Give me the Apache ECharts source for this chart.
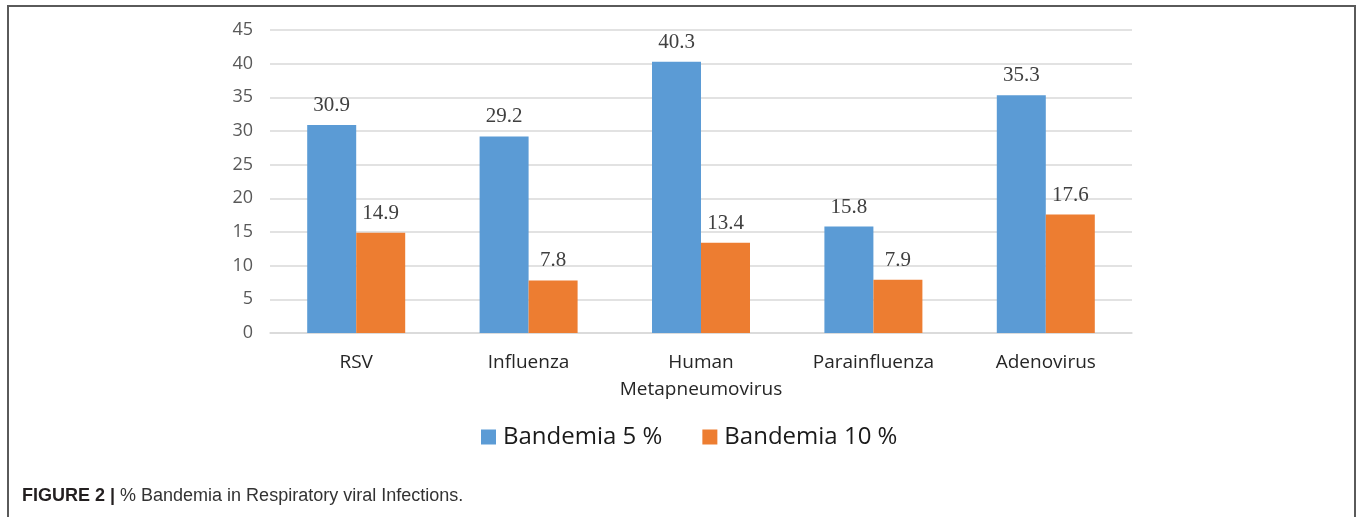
<!DOCTYPE html>
<html>
<head>
<meta charset="utf-8">
<style>
  html, body { margin: 0; padding: 0; background: #fff; }
  #chart { width: 1358px; height: 517px; }
</style>
<script src="https://cdn.jsdelivr.net/npm/echarts@6/dist/echarts.min.js"></script>
</head>
<body>
<div id="chart"></div>
<script>
// Viruses on the x axis
const categories = ['RSV', 'Influenza', 'Human\nMetapneumovirus', 'Parainfluenza', 'Adenovirus'];
// Percentage of patients with bandemia, per threshold
const bandemia5 = [30.9, 29.2, 40.3, 15.8, 35.3];
const bandemia10 = [14.9, 7.8, 13.4, 7.9, 17.6];
const seriesNames = ['Bandemia 5 %', 'Bandemia 10 %'];
const yTicks = { min: 0, max: 45, interval: 5 };

const chart = echarts.init(document.getElementById('chart'), null, { renderer: 'canvas' });

const valueLabel = {
  show: true,
  position: 'top',
  distance: 9,
  fontFamily: 'Liberation Serif',
  fontSize: 21,
  color: '#404040'
};

chart.setOption({
  animation: false,
  backgroundColor: '#ffffff',
  title: {
    left: 17,
    top: 482,
    text: '{b|FIGURE 2 |} {n|% Bandemia in Respiratory viral Infections.}',
    textStyle: {
      fontWeight: 'normal',
      rich: {
        b: { fontFamily: 'Liberation Sans', fontWeight: 'bold', fontSize: 18, color: '#231f20' },
        n: { fontFamily: 'Liberation Sans', fontWeight: 'normal', fontSize: 18, color: '#333333' }
      }
    }
  },
  graphic: [
    {
      type: 'rect',
      shape: { x: 8, y: 6, width: 1347, height: 530 },
      style: { fill: 'none', stroke: '#5a5a5a', lineWidth: 2 },
      silent: true
    }
  ],
  legend: {
    top: 420,
    left: 476,
    itemWidth: 15,
    itemHeight: 15,
    itemGap: 40,
    icon: 'rect',
    textStyle: { fontFamily: 'Open Sans', fontSize: 24, color: '#1a1a1a', padding: [0, 0, 0, 2] },
    data: seriesNames
  },
  grid: { left: 270, right: 226, top: 30, bottom: 184, containLabel: false },
  xAxis: {
    type: 'category',
    data: categories,
    axisLine: { show: true, lineStyle: { color: '#d9d9d9', width: 1.5 } },
    axisTick: { show: false },
    axisLabel: {
      interval: 0,
      fontFamily: 'Open Sans',
      fontSize: 19,
      color: '#262626',
      margin: 16,
      lineHeight: 27
    }
  },
  yAxis: {
    type: 'value',
    min: yTicks.min,
    max: yTicks.max,
    interval: yTicks.interval,
    axisLine: { show: false },
    axisTick: { show: false },
    splitLine: { lineStyle: { color: '#d9d9d9', width: 1.5 } },
    axisLabel: {
      fontFamily: 'Open Sans',
      fontSize: 18,
      color: '#595959',
      margin: 17
    }
  },
  series: [
    {
      name: seriesNames[0],
      type: 'bar',
      data: bandemia5,
      barWidth: 49,
      barGap: '0%',
      itemStyle: { color: '#5b9bd5' },
      label: valueLabel
    },
    {
      name: seriesNames[1],
      type: 'bar',
      data: bandemia10,
      barWidth: 49,
      barGap: '0%',
      itemStyle: { color: '#ed7d31' },
      label: valueLabel
    }
  ]
});
</script>
</body>
</html>
